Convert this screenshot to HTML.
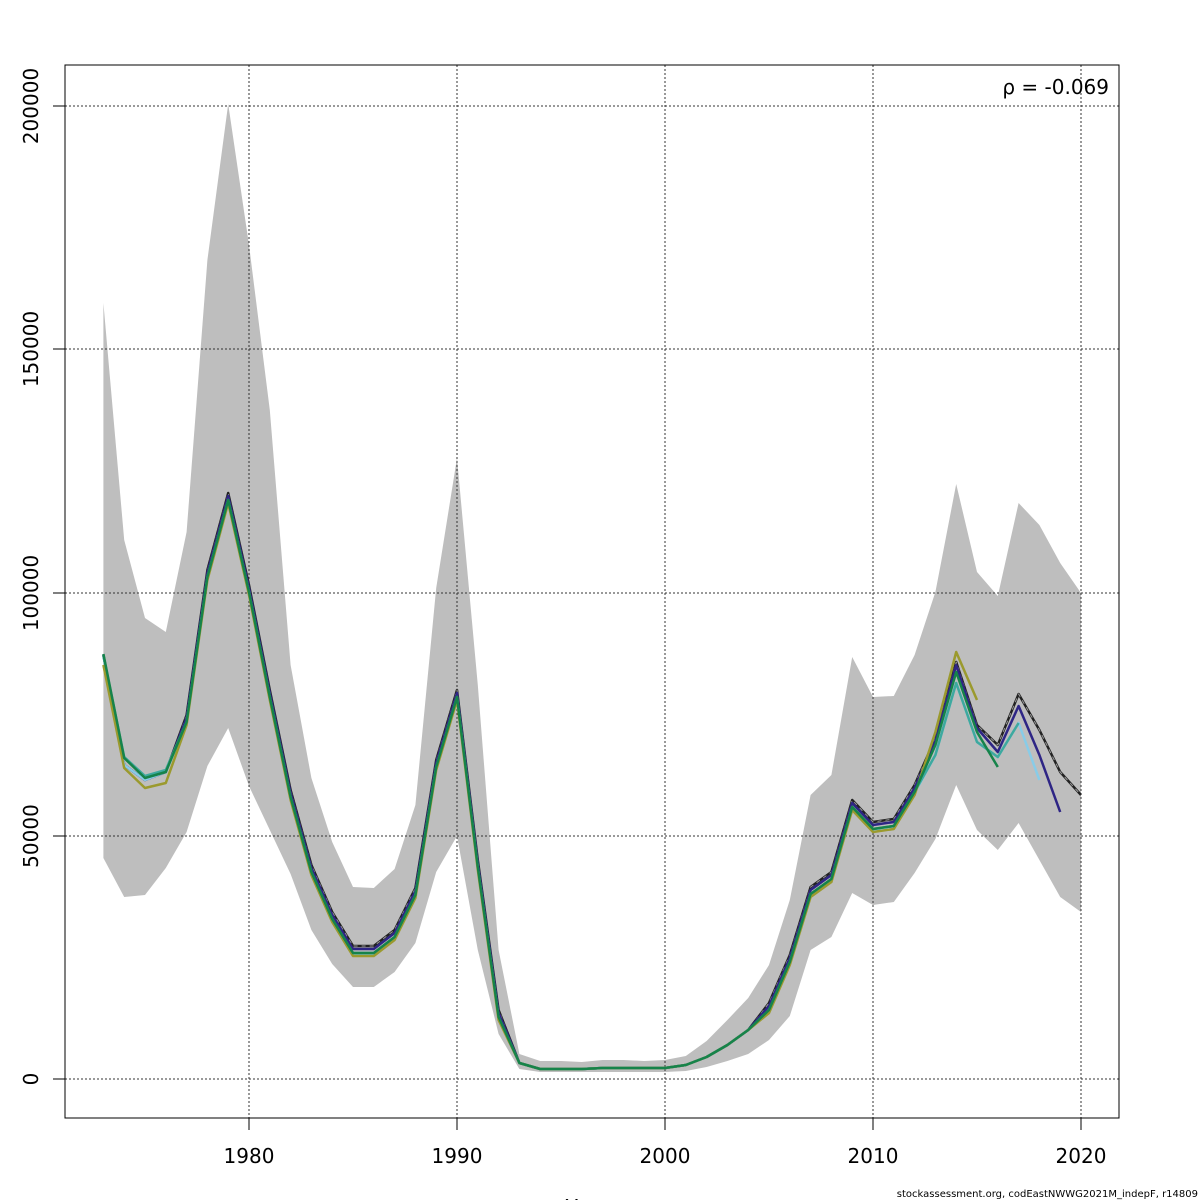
<!DOCTYPE html>
<html><head><meta charset="utf-8"><style>body{margin:0;background:#fff}svg{display:block}text{font-family:"DejaVu Sans","Liberation Sans",sans-serif}</style></head>
<body>
<svg id="s" width="1200" height="1200" xmlns="http://www.w3.org/2000/svg">
<rect width="1200" height="1200" fill="#fff"/>
<g id="band"></g>
<g id="grid" stroke="#333" stroke-width="1" stroke-dasharray="2,2" fill="none">
<line x1="249" y1="65" x2="249" y2="1118"/><line x1="457" y1="65" x2="457" y2="1118"/><line x1="665" y1="65" x2="665" y2="1118"/><line x1="873" y1="65" x2="873" y2="1118"/><line x1="1081" y1="65" x2="1081" y2="1118"/>
<line x1="65" y1="106" x2="1119" y2="106"/><line x1="65" y1="349" x2="1119" y2="349"/><line x1="65" y1="593" x2="1119" y2="593"/><line x1="65" y1="836" x2="1119" y2="836"/><line x1="65" y1="1079" x2="1119" y2="1079"/>
</g>
<g id="lines" fill="none" stroke-width="2.5" stroke-linejoin="round"></g>
<rect x="65" y="65" width="1054" height="1053" fill="none" stroke="#000" stroke-width="1"/>
<g stroke="#000"><line x1="249" y1="1118" x2="249" y2="1130"/><line x1="457" y1="1118" x2="457" y2="1130"/><line x1="665" y1="1118" x2="665" y2="1130"/><line x1="873" y1="1118" x2="873" y2="1130"/><line x1="1081" y1="1118" x2="1081" y2="1130"/>
<line x1="53" y1="106" x2="65" y2="106"/><line x1="53" y1="349" x2="65" y2="349"/><line x1="53" y1="593" x2="65" y2="593"/><line x1="53" y1="836" x2="65" y2="836"/><line x1="53" y1="1079" x2="65" y2="1079"/></g>
<g font-size="20" text-anchor="middle" fill="#000">
<text x="249" y="1163">1980</text><text x="457" y="1163">1990</text><text x="665" y="1163">2000</text><text x="873" y="1163">2010</text><text x="1081" y="1163">2020</text>
<text transform="translate(38,106) rotate(-90)">200000</text>
<text transform="translate(38,349) rotate(-90)">150000</text>
<text transform="translate(38,593) rotate(-90)">100000</text>
<text transform="translate(38,836) rotate(-90)">50000</text>
<text transform="translate(38,1079) rotate(-90)">0</text>
<text x="592" y="1214">Years</text>
</g>
<text x="1109" y="94" font-size="20" text-anchor="end">ρ = -0.069</text>
<text x="1198" y="1197" font-size="10" text-anchor="end">stockassessment.org, codEastNWWG2021M_indepF, r14809</text>
</svg>
<script>
const X=y=>249+(y-1980)*20.8;
const m=[655,765,780,772,715,570,493,585,690,790,865,912,946,946,930,888,760,690,860,1010,1063,1069,1069,1069,1068,1068,1068,1068,1065,1057,1045,1030,1003,955,887,872,800,822,819,785,738,662,725,745,694,730,772,795];
const up=[303,540,618,632,532,260,104,245,410,665,778,842,887,888,869,805,588,458,685,950,1054,1061,1061,1062,1060,1060,1061,1060,1056,1041,1020,998,965,900,795,775,657,697,696,655,592,484,572,596,503,525,563,593];
const lo=[858,897,895,868,832,766,728,786,830,874,930,964,987,987,972,943,872,836,950,1034,1069,1072,1072,1072,1072,1072,1072,1072,1071,1067,1061,1054,1040,1016,950,937,893,905,902,873,839,785,830,850,823,860,897,912];
let p=up.map((v,i)=>X(1973+i)+','+v);for(let i=lo.length-1;i>=0;i--)p.push(X(1973+i)+','+lo[i]);
document.getElementById('band').innerHTML='<polygon points="'+p.join(' ')+'" fill="#bebebe"/>';
function ser(end,off,col,ov){let pts=[];for(let i=0;1973+i<=end;i++){let v=m[i];let yr=1973+i;let o=(yr>=1977&&yr<=1992)||(yr>=2005)?off:0;v+=o;if(ov&&ov[yr]!==undefined)v=ov[yr];pts.push(X(yr)+','+v);}return '<polyline points="'+pts.join(' ')+'" stroke="'+col+'"/>';}
let h='';
h+='<polyline points="'+m.map((v,i)=>X(1973+i)+','+v).join(' ')+'" stroke="#222" stroke-width="2.5"/>';
h+='<polyline points="'+m.map((v,i)=>X(1973+i)+','+v).join(' ')+'" stroke="#999" stroke-width="1" stroke-dasharray="4,4"/>';
h+=ser(2019,3,'#2e2585',{2014:665,2015:728,2016:752,2017:706,2018:755,2019:812});
h+=ser(2018,8,'#88cce8',{2013:755,2014:683,2015:742,2016:757,2017:723,2018:780});
h+=ser(2017,7,'#3ea99f',{1973:656,1974:757,1975:776,1976:770,2013:755,2014:683,2015:742,2016:757,2017:723});
h+=ser(2015,10,'#9b9a2e',{1973:665,1974:768,1975:788,1976:783,2013:732,2014:652,2015:700});
h+=ser(2016,7,'#16834a',{1973:654,1974:758,1975:778,1976:772,2014:672,2015:732,2016:767});
document.getElementById('lines').innerHTML=h;
</script>
</body></html>
